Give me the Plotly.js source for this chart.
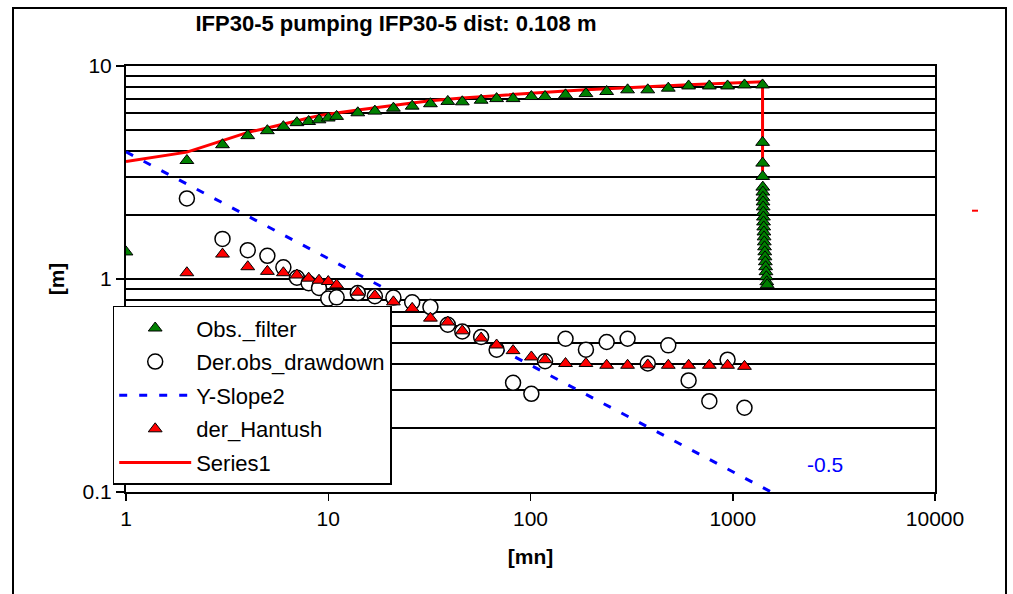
<!DOCTYPE html>
<html><head><meta charset="utf-8">
<script src="https://cdn.plot.ly/plotly-3.0.1.min.js"></script>
<style>html,body{margin:0;padding:0;background:#fff;} #chart{width:1013px;height:594px;}</style>
</head><body><div id="chart"></div>
<script>
// ---- data ----
const obsTimes = [1,2,3,4,5,6,7,8,9,10,11,14,17,21,26,32,39,46,57,68,82,101,118,149,188,238,302,380,480,605,766,943,1143,1404];
const obsFilter = [1.34,3.6,4.27,4.71,4.97,5.19,5.42,5.49,5.59,5.70,5.80,6.03,6.14,6.34,6.48,6.65,6.82,6.79,6.91,7.03,7.03,7.19,7.19,7.32,7.42,7.59,7.73,7.73,7.87,8.06,8.06,8.06,8.15,8.15];
const recTimes = [1405,1406,1407,1408,1409,1410,1412,1414,1416,1418,1420,1423,1426,1429,1432,1436,1440,1444,1449,1454,1460,1466,1473,1480];
const recFilter = [4.38,3.50,3.03,2.70,2.56,2.42,2.30,2.18,2.06,1.955,1.853,1.756,1.663,1.577,1.494,1.416,1.342,1.271,1.205,1.142,1.082,1.025,0.971,0.94];

const derTimes = [2,3,4,5,6,7,8,9,10,11,14,17,21,26,32,39,46,57,68,82,101,118,149,188,238,302,380,480,605,766,943,1143];
const derObs = [2.39,1.543,1.366,1.285,1.134,1.014,0.955,0.907,0.809,0.82,0.859,0.83,0.818,0.778,0.738,0.61,0.567,0.534,0.466,0.3255,0.289,0.411,0.524,0.466,0.506,0.524,0.401,0.488,0.334,0.267,0.418,0.2487];
const derHantush = [1.07,1.309,1.142,1.086,1.07,1.044,1.009,0.987,0.973,0.938,0.867,0.836,0.781,0.728,0.655,0.628,0.571,0.528,0.49,0.461,0.4306,0.418,0.401,0.401,0.3935,0.3935,0.395,0.3935,0.3935,0.3935,0.3935,0.389];

const s1Times = [1,2,3,4,5,6,7,8,9,10,11,14,17,21,26,32,39,46,57,68,82,101,118,149,188,238,302,380,480,605,766,943,1143,1404,1404];
const series1 = [3.56,3.94,4.46,4.88,5.12,5.35,5.55,5.7,5.85,5.95,6.02,6.22,6.38,6.55,6.7,6.86,6.99,7.08,7.18,7.27,7.36,7.46,7.53,7.63,7.73,7.83,7.92,8.0,8.08,8.16,8.24,8.31,8.37,8.43,3.2];

const slopeTimes = [1, 2000];
const slopeVals = [3.95, 0.088];

const xTickVals = [1,10,100,1000,10000];
const xTickText = ['1','10','100','1000','10000'];
const yTickVals = [0.1,1,10];
const yTickText = ['0.1','1','10'];

// ---- geometry ----
const W = 1013, H = 594, L = 126, R = 935, T = 66, B = 492;
const px = x => (x - L) / (R - L);
const py = y => (B - y) / (B - T);
const FONT = 'Liberation Sans, Arial, sans-serif';

const traces = [
  {name:'Series1', x:s1Times, y:series1, type:'scatter', mode:'lines',
   line:{color:'#ff0000', width:3}, legendrank:5, legendgroup:'g5'},
  {name:'Y-Slope2', x:slopeTimes, y:slopeVals, type:'scatter', mode:'lines',
   line:{color:'#0000ff', width:3, dash:'8px,12px'}, legendrank:3, legendgroup:'g3'},
  {name:'Der.obs_drawdown', x:derTimes, y:derObs, type:'scatter', mode:'markers',
   marker:{symbol:'circle', size:15, color:'#ffffff', line:{color:'#000', width:1.5}}, legendrank:2, legendgroup:'g2'},
  {name:'der_Hantush', x:derTimes, y:derHantush, type:'scatter', mode:'markers',
   marker:{symbol:'triangle-up', size:12, color:'#ff0000', line:{color:'#000', width:1}}, legendrank:4, legendgroup:'g4'},
  {name:'Obs._filter', x:obsTimes.concat(recTimes), y:obsFilter.concat(recFilter), type:'scatter', mode:'markers',
   marker:{symbol:'triangle-up', size:12, color:'#008000', line:{color:'#000', width:1}}, legendrank:1, legendgroup:'g1'}
];

const layout = {
  width:W, height:H,
  margin:{l:L, r:W-R, t:T, b:H-B, pad:0},
  paper_bgcolor:'#fff', plot_bgcolor:'#fff',
  font:{family:FONT, size:21, color:'#000'},
  title:{text:'<b>IFP30-5 pumping IFP30-5 dist: 0.108 m</b>', font:{size:22, family:FONT},
         xref:'container', yref:'container', x:396/W, y:1-23/H, xanchor:'center', yanchor:'middle'},
  xaxis:{type:'log', range:[0,4], tickmode:'array', tickvals:xTickVals, ticktext:xTickText,
         showgrid:false, ticks:'outside', ticklen:7, tickwidth:1.5, tickcolor:'#000',
         showline:true, linecolor:'#000', linewidth:2, mirror:true,
         title:{text:'<b>[mn]</b>', font:{size:21}, standoff:20}, fixedrange:true},
  yaxis:{type:'log', range:[-1,1], tickmode:'array', tickvals:yTickVals, ticktext:yTickText,
         showgrid:true, gridcolor:'#000', gridwidth:2,
         minor:{dtick:'D1', showgrid:true, gridcolor:'#000', gridwidth:2, ticks:''},
         ticks:'outside', ticklen:8, tickwidth:1.5, tickcolor:'#000',
         showline:true, linecolor:'#000', linewidth:2, mirror:true,
         title:{text:'<b>[m]</b>', font:{size:21}, standoff:12}, fixedrange:true},
  legend:{x:px(112.7), y:py(305.7), xanchor:'left', yanchor:'top', xref:'paper', yref:'paper',
          bgcolor:'#fff', bordercolor:'#000', borderwidth:1.5, font:{size:22},
          traceorder:'grouped', tracegroupgap:2, itemwidth:72},
  annotations:[
    {text:'-0.5', xref:'paper', yref:'paper', x:px(825), y:py(464), showarrow:false,
     font:{color:'#0000ff', size:21}, xanchor:'center', yanchor:'middle'}
  ],
  shapes:[
    {type:'rect', xref:'paper', yref:'paper', x0:px(13), x1:px(1006), y0:py(600), y1:py(8),
     line:{color:'#000', width:2}, fillcolor:'rgba(0,0,0,0)', layer:'below'},
    {type:'line', xref:'paper', yref:'paper', x0:px(972), x1:px(978), y0:py(210.7), y1:py(210.7),
     line:{color:'#ff0000', width:2}}
  ]
};

Plotly.newPlot('chart', traces, layout, {displayModeBar:false, staticPlot:true});
</script></body></html>
